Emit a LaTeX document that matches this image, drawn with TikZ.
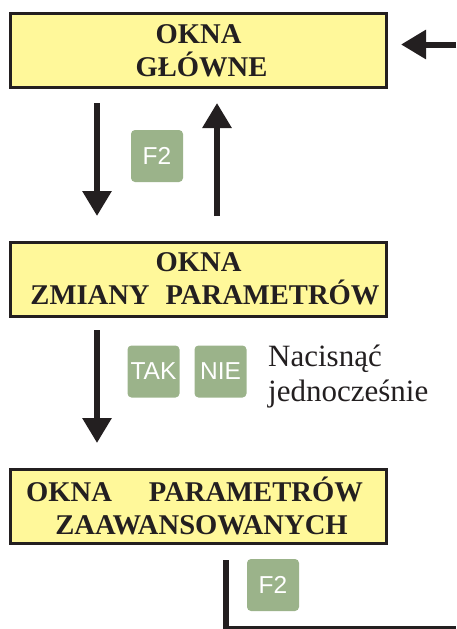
\documentclass[tikz,border=0pt]{standalone}
\usepackage{fontspec}
\setmainfont{Liberation Serif}
\newfontfamily\keyfont{Liberation Sans}
\usetikzlibrary{arrows.meta}
\definecolor{boxfill}{HTML}{FFF89A}
\definecolor{ink}{HTML}{231F20}
\definecolor{keyfill}{HTML}{9BB38A}
\tikzset{
  screen/.style={draw=ink, line width=3pt, fill=boxfill, minimum width=376pt,
    minimum height=74pt, inner sep=0pt, align=center, text=ink,
    font=\bfseries\fontsize{28.6pt}{33pt}\selectfont},
  key/.style={fill=keyfill, rounded corners=4pt, minimum width=52pt,
    minimum height=52pt, inner sep=0pt, text=white,
    font=\keyfont\fontsize{24.5pt}{28pt}\selectfont},
  flow/.style={draw=ink, line width=6pt,
    -{Triangle[length=25pt,width=28pt]}},
  note/.style={anchor=base west, inner sep=0pt, align=left, text=ink,
    font=\fontsize{31pt}{35.7pt}\selectfont}
}
\begin{document}
\begin{tikzpicture}[x=1pt, y=-1pt]
\useasboundingbox (0,0) rectangle (456,629);

% the three screens
\node[screen] (main) at (198.5,50.5) {OKNA\\\hspace*{6pt}GŁÓWNE};
\node[screen] (change) at (198.5,279) {OKNA\\\hspace*{13pt}ZMIANY\hspace{16pt}PARAMETRÓW};
\node[screen] (adv) at (198.5,506) {OKNA\hspace{37pt}PARAMETRÓW\hspace*{8pt}\\\hspace*{6pt}ZAAWANSOWANYCH};

% keys
\node[key] (f2a) at (157,156) {F2};
\node[key] (tak) at (153.5,371.5) {TAK};
\node[key] (nie) at (220.5,371.5) {NIE};
\node[key] (f2b) at (273,585) {F2};

% the base anchor sits on the last line
\node[note] (hint) at (268,401.7) {Nacisnąć\\jednocześnie};

% connector end points
\coordinate (m1) at (97,103);
\coordinate (c1) at (97,216);
\coordinate (m2) at (217,103);
\coordinate (c2) at (217,216);
\coordinate (c3) at (97,330);
\coordinate (a3) at (97,443);
\coordinate (inR) at (456,44.5);
\coordinate (inT) at (401,44.5);
\coordinate (b1) at (226,560);
\coordinate (b2) at (226,629);
\coordinate (b3) at (223,627.5);
\coordinate (b4) at (456,627.5);

% transitions
\draw[flow] (m1) -- (c1);
\draw[flow] (c2) -- (m2);
\draw[flow] (c3) -- (a3);
\draw[flow] (inR) -- (inT);
\draw[draw=ink, line width=6pt] (b1) -- (b2);
\draw[draw=ink, line width=3pt] (b3) -- (b4);
\end{tikzpicture}
\end{document}
